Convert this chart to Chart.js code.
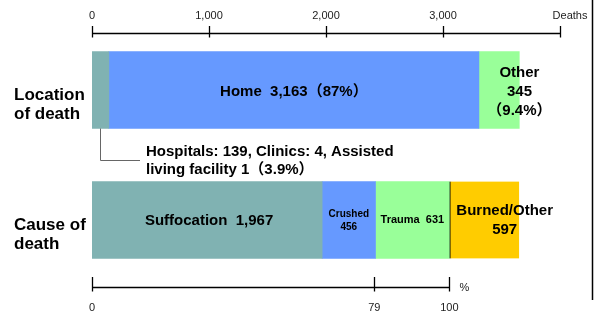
<!DOCTYPE html>
<html>
<head>
<meta charset="utf-8">
<script src="https://cdn.jsdelivr.net/npm/chart.js@4.4.1/dist/chart.umd.min.js"></script>
<style>
  html, body { margin: 0; padding: 0; background: #fff; }
  #wrap { width: 594px; height: 316px; position: relative; }
</style>
</head>
<body>
<div id="wrap"><canvas id="c" width="594" height="316"></canvas></div>
<script>
// ---- data ----
const categories = ['Location of death', 'Cause of death'];
const categoryLines = [['Location', 'of death'], ['Cause of', 'death']];

const locationLabels = ['Hospitals/Clinics/Assisted living', 'Home', 'Other'];
const locationValues = [144, 3163, 345];
const locationPercents = ['3.9', '87', '9.4'];
const hospitalBreakdown = [139, 4, 1]; // Hospitals, Clinics, Assisted living facility

const causeLabels = ['Suffocation', 'Crushed', 'Trauma', 'Burned/Other'];
const causeValues = [1967, 456, 631, 597];

const deathTicks = [0, 1000, 2000, 3000];
const deathTickLabels = ['0', '1,000', '2,000', '3,000'];
const deathAxisMax = 4000;
const deathAxisUnit = 'Deaths';

const percentTicks = [0, 79, 100];
const percentUnit = '%';

// ---- styles ----
const locationColors = ['#80B2B2', '#6699FF', '#99FF99'];
const causeColors = ['#80B2B2', '#6699FF', '#99FF99', '#FFCC00'];
const FONT = '"Liberation Sans", Arial, "Noto Sans CJK JP", sans-serif';

const datasets = [];
locationLabels.forEach((l, i) => {
  datasets.push({ label: l, data: [locationValues[i], null], backgroundColor: locationColors[i], borderWidth: 0 });
});
causeLabels.forEach((l, i) => {
  const ds = { label: l, data: [null, causeValues[i]], backgroundColor: causeColors[i], borderWidth: 0 };
  if (i === causeLabels.length - 1) {
    ds.borderColor = '#000';
    ds.borderWidth = { left: 1.5, right: 0, top: 0, bottom: 0 };
    ds.borderSkipped = false;
  }
  datasets.push(ds);
});

function fmt(n) { return n.toLocaleString('en-US'); }

const overlay = {
  id: 'overlay',
  afterDatasetsDraw(chart) {
    const ctx = chart.ctx;
    const xs = chart.scales.x, ys = chart.scales.y;
    const area = chart.chartArea;
    const X = v => xs.getPixelForValue(v);
    ctx.save();
    ctx.textAlign = 'center';
    ctx.textBaseline = 'middle';
    ctx.fillStyle = '#000';

    const yTop = ys.getPixelForValue(0);
    const yBot = ys.getPixelForValue(1);
    const half = 77 / 2;

    // --- location bar labels ---
    const locCum = [0];
    locationValues.forEach((v, i) => locCum.push(locCum[i] + v));
    const homeMid = (X(locCum[1]) + X(locCum[2])) / 2;
    ctx.font = 'bold 15px ' + FONT;
    ctx.fillText(locationLabels[1] + '  ' + fmt(locationValues[1]) + '（' + locationPercents[1] + '%）', homeMid, yTop + 2);
    const otherMid = (X(locCum[2]) + area.right) / 2;
    ctx.fillText(locationLabels[2], otherMid, yTop - 17);
    ctx.fillText(fmt(locationValues[2]), otherMid, yTop + 2);
    ctx.fillText('（' + locationPercents[2] + '%）', otherMid, yTop + 21);

    // callout for hospitals
    const hx = Math.round((X(locCum[0]) + X(locCum[1])) / 2) + 0.5;
    ctx.strokeStyle = '#666';
    ctx.lineWidth = 1;
    ctx.beginPath();
    ctx.moveTo(hx, yTop + half);
    ctx.lineTo(hx, 160.5);
    ctx.lineTo(140, 160.5);
    ctx.stroke();
    ctx.textAlign = 'left';
    ctx.fillText('Hospitals: ' + hospitalBreakdown[0] + ', Clinics: ' + hospitalBreakdown[1] + ', Assisted', 146, 152);
    ctx.fillText('living facility ' + hospitalBreakdown[2] + '（' + locationPercents[0] + '%）', 146, 170);
    ctx.textAlign = 'center';

    // --- cause bar labels ---
    const cCum = [0];
    causeValues.forEach((v, i) => cCum.push(cCum[i] + v));
    const mid = i => (X(cCum[i]) + X(cCum[i + 1])) / 2;
    ctx.font = 'bold 15px ' + FONT;
    ctx.fillText(causeLabels[0] + '  ' + fmt(causeValues[0]), mid(0) + 2, yBot + 1);
    ctx.font = 'bold 10px ' + FONT;
    ctx.fillText(causeLabels[1], mid(1), yBot - 6);
    ctx.fillText(fmt(causeValues[1]), mid(1), yBot + 7);
    ctx.font = 'bold 11px ' + FONT;
    ctx.fillText(causeLabels[2] + '  ' + fmt(causeValues[2]), mid(2), yBot);
    const burnMid = (X(cCum[3]) + area.right) / 2;
    ctx.font = 'bold 15px ' + FONT;
    ctx.fillText(causeLabels[3], burnMid, yBot - 9);
    ctx.fillText(fmt(causeValues[3]), burnMid, yBot + 10);

    // --- category labels ---
    ctx.textAlign = 'left';
    ctx.font = 'bold 17px ' + FONT;
    categoryLines.forEach((lines, i) => {
      const cy = ys.getPixelForValue(i);
      ctx.fillText(lines[0], 14, cy + 5);
      ctx.fillText(lines[1], 14, cy + 24);
    });

    // --- top deaths axis ---
    ctx.strokeStyle = '#000';
    ctx.lineWidth = 1.3;
    const ax = 33.5;
    ctx.beginPath();
    ctx.moveTo(X(0), ax);
    ctx.lineTo(X(deathAxisMax), ax);
    [...deathTicks, deathAxisMax].forEach(v => {
      const px = Math.round(X(v)) + 0.5;
      ctx.moveTo(px, 26);
      ctx.lineTo(px, 37.5);
    });
    ctx.stroke();
    ctx.font = '11px ' + FONT;
    ctx.fillStyle = '#222';
    ctx.textAlign = 'center';
    deathTicks.forEach((v, i) => ctx.fillText(deathTickLabels[i], X(v), 16));
    ctx.fillText(deathAxisUnit, X(deathAxisMax) + 10, 16);

    // --- bottom percent axis (share of first three causes) ---
    const base = causeValues[0] + causeValues[1] + causeValues[2];
    const P = p => X(p / 100 * base);
    const bx = 287.5;
    ctx.beginPath();
    ctx.moveTo(P(0), bx);
    ctx.lineTo(P(100), bx);
    percentTicks.forEach(p => {
      const px = Math.round(P(p)) + 0.5;
      ctx.moveTo(px, 277);
      ctx.lineTo(px, 291.5);
    });
    ctx.stroke();
    percentTicks.forEach(p => ctx.fillText(String(p), P(p), 308));
    ctx.fillText(percentUnit, P(100) + 15, 288);

    // right frame line
    ctx.strokeStyle = '#000';
    ctx.lineWidth = 1.5;
    ctx.beginPath();
    ctx.moveTo(592.5, 0);
    ctx.lineTo(592.5, 300);
    ctx.stroke();
    ctx.restore();
  }
};

new Chart(document.getElementById('c'), {
  type: 'bar',
  data: { labels: categories, datasets },
  options: {
    indexAxis: 'y',
    responsive: false,
    animation: false,
    devicePixelRatio: 1,
    layout: { padding: { left: 92, right: 34, top: 25, bottom: 31 } },
    barThickness: 77,
    plugins: { legend: { display: false }, tooltip: { enabled: false } },
    scales: {
      x: { type: 'linear', stacked: true, min: 0, max: deathAxisMax, display: false },
      y: { type: 'category', stacked: true, display: false }
    }
  },
  plugins: [overlay]
});
</script>
</body>
</html>
